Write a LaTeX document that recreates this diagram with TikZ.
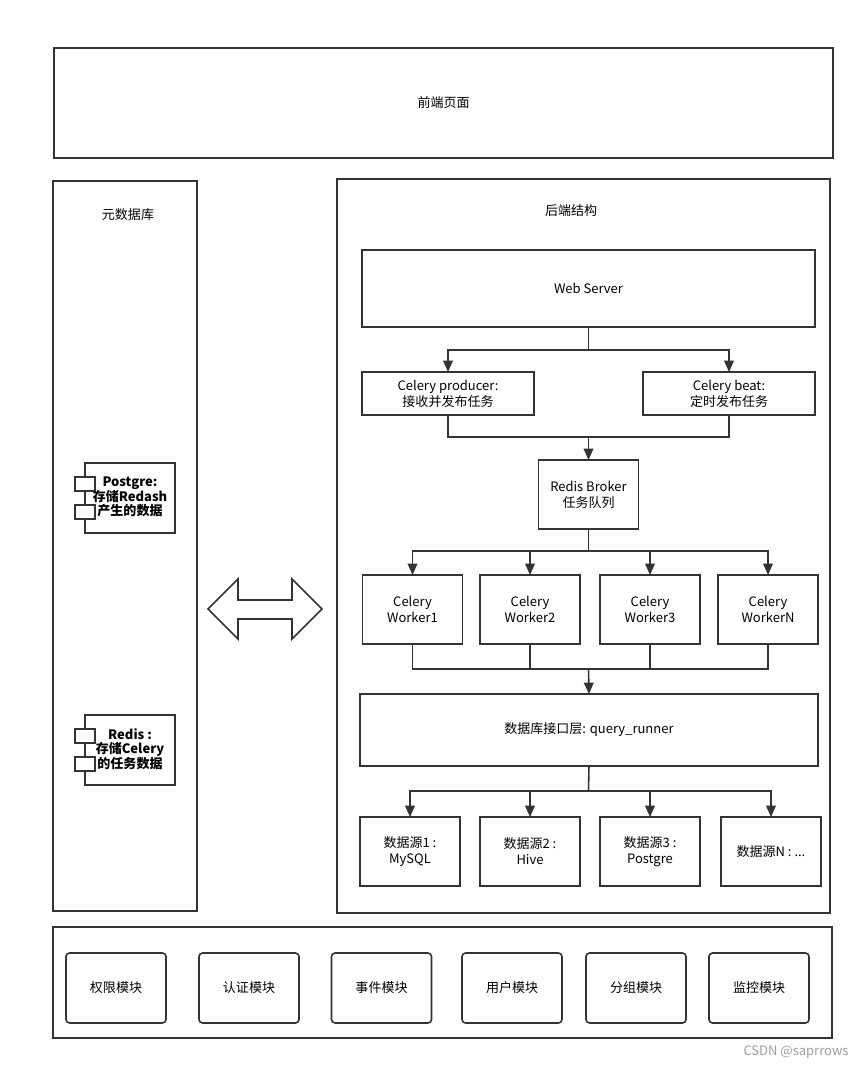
\documentclass[tikz,border=0pt]{standalone}
\usepackage{fontspec}
\setmainfont{Noto Sans CJK SC}
\usetikzlibrary{arrows.meta}
\definecolor{ln}{rgb}{0.2,0.2,0.2}
\definecolor{wm}{rgb}{0.62,0.62,0.62}

\tikzset{
  box/.style={draw=ln, line width=0.9pt, inner sep=0pt, outer sep=0pt, align=center, font=\fontsize{7.4}{9.2}\selectfont},
  module/.style={box, rounded corners=2pt},
  label/.style={inner sep=0pt, align=center, font=\fontsize{7.4}{9.2}\selectfont},
  wire/.style={draw=ln, line width=0.9pt},
  arr/.style={wire, -{Triangle[width=5.5pt,length=6.5pt]}},
}

\begin{document}
\begin{tikzpicture}[x=0.02cm, y=-0.02cm]
    \useasboundingbox (0,0) rectangle (864,1069);

    % Front end
    \node[box, minimum width=15.58cm, minimum height=2.2cm] (front) at (443.5,103) {前端页面};

    % Metadata store
    \node[box, minimum width=2.88cm, minimum height=14.6cm] (meta) at (125,546) {};
    \node[label] (metatitle) at (128,215) {元数据库};

    % Postgre component
    \node[box, minimum width=1.8cm, minimum height=1.4cm] (pgbody) at (130,498) {};
    \draw[wire, fill=white] (75,477) rectangle (95,491);
    \draw[wire, fill=white] (75,505) rectangle (95,519);
    \node[label, font=\bfseries\fontsize{7.4}{8.2}\selectfont] (pgtext) at (130,497) {Postgre:\\存储Redash\\产生的数据};

    % Redis component
    \node[box, minimum width=1.8cm, minimum height=1.4cm] (rdbody) at (130,750) {};
    \draw[wire, fill=white] (75,729) rectangle (95,743);
    \draw[wire, fill=white] (75,757) rectangle (95,771);
    \node[label, font=\bfseries\fontsize{7.4}{8.2}\selectfont] (rdtext) at (130,749) {Redis :\\存储Celery\\的任务数据};

    % Double arrow between store and backend
    \draw[wire] (208,609) -- (238,579) -- (238,600) -- (292,600) -- (292,579) -- (322,609)
        -- (292,639) -- (292,619) -- (238,619) -- (238,639) -- cycle;

    % Backend
    \node[box, minimum width=9.86cm, minimum height=14.68cm] (backend) at (583.5,546) {};
    \node[label] (backtitle) at (571,211) {后端结构};

    \node[box, minimum width=9.06cm, minimum height=1.54cm] (web) at (588.5,288.5) {Web Server};
    \node[box, minimum width=3.44cm, minimum height=0.86cm] (prod) at (448,393.5) {Celery producer:\\接收并发布任务};
    \node[box, minimum width=3.44cm, minimum height=0.86cm] (beat) at (729,393.5) {Celery beat:\\定时发布任务};
    \node[box, minimum width=2.0cm, minimum height=1.38cm] (broker) at (588.5,494.5) {Redis Broker\\任务队列};

    % Workers
    \node[box, minimum width=2.0cm, minimum height=1.38cm] (w1) at (412.5,609.5) {Celery\\Worker1};
    \node[box, minimum width=2.0cm, minimum height=1.38cm] (w2) at (530,609.5) {Celery\\Worker2};
    \node[box, minimum width=2.0cm, minimum height=1.38cm] (w3) at (650,609.5) {Celery\\Worker3};
    \node[box, minimum width=2.0cm, minimum height=1.38cm] (wn) at (768,609.5) {Celery\\WorkerN};

    \node[box, minimum width=9.16cm, minimum height=1.44cm] (query) at (589,730) {数据库接口层: query\_runner};

    % Data sources
    \node[box, minimum width=2.0cm, minimum height=1.38cm] (ds1) at (410,851.5) {数据源1 :\\MySQL};
    \node[box, minimum width=2.0cm, minimum height=1.38cm] (ds2) at (530,851.5) {数据源2 :\\Hive};
    \node[box, minimum width=2.0cm, minimum height=1.38cm] (ds3) at (650,851.5) {数据源3 :\\Postgre};
    \node[box, minimum width=2.0cm, minimum height=1.38cm] (dsn) at (771,851.5) {数据源N : ...};

    % Connectors
    \coordinate (split1) at (588.5,350);
    \coordinate (join1) at (588.5,437);
    \coordinate (split2) at (588.5,551);
    \coordinate (join2) at (588.5,669);
    \coordinate (split3) at (588.5,791);

    \draw[wire] (web.south) -- (split1);
    \draw[arr] (split1) -| (prod.north);
    \draw[arr] (split1) -| (beat.north);
    \draw[wire] (prod.south) |- (join1) -| (beat.south);
    \draw[arr] (join1) -- (broker.north);

    \draw[wire] (broker.south) -- (split2);
    \draw[arr] (split2) -| (w1.north);
    \draw[arr] (split2) -| (w2.north);
    \draw[arr] (split2) -| (w3.north);
    \draw[arr] (split2) -| (wn.north);
    \draw[wire] (w1.south) |- (join2) -| (wn.south);
    \draw[wire] (w2.south) -- (w2.south |- join2);
    \draw[wire] (w3.south) -- (w3.south |- join2);
    \draw[arr] (join2) -- (query.north);

    \draw[wire] (query.south) -- (split3);
    \draw[arr] (split3) -| (ds1.north);
    \draw[arr] (split3) -| (ds2.north);
    \draw[arr] (split3) -| (ds3.north);
    \draw[arr] (split3) -| (dsn.north);

    % Common modules
    \node[box, minimum width=15.58cm, minimum height=2.22cm] (common) at (442.5,982.5) {};
    \node[module, minimum width=2.0cm, minimum height=1.4cm] (m1) at (116,988) {权限模块};
    \node[module, minimum width=2.0cm, minimum height=1.4cm] (m2) at (249,988) {认证模块};
    \node[module, minimum width=2.0cm, minimum height=1.4cm] (m3) at (381.5,988) {事件模块};
    \node[module, minimum width=2.0cm, minimum height=1.4cm] (m4) at (512,988) {用户模块};
    \node[module, minimum width=2.0cm, minimum height=1.4cm] (m5) at (636,988) {分组模块};
    \node[module, minimum width=2.0cm, minimum height=1.4cm] (m6) at (759,988) {监控模块};

    % Watermark
    \node[label, text=wm, font=\fontsize{7.4}{9}\selectfont] (mark) at (796,1052) {CSDN @saprrows};
\end{tikzpicture}
\end{document}
